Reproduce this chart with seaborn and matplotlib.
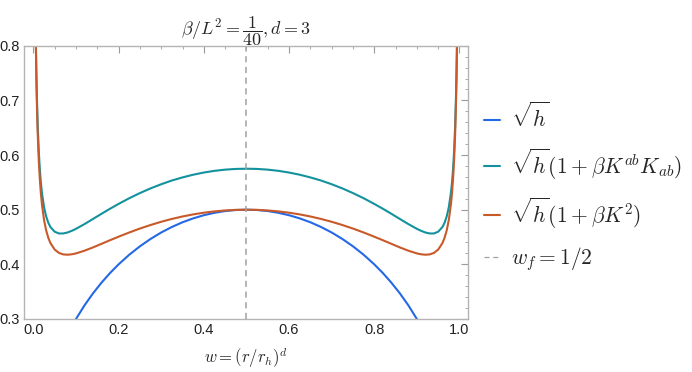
import numpy as np
import pandas as pd
import seaborn as sns
from matplotlib import pyplot as plt
from matplotlib.ticker import MultipleLocator

# values (left half + mirrored right half)
w = [0.004, 0.005, 0.006, 0.007, 0.008, 0.01, 0.0125, 0.015, 0.0175, 0.02,
     0.025, 0.03, 0.035, 0.04, 0.05, 0.06, 0.07, 0.08, 0.09, 0.1,
     0.12, 0.14, 0.16, 0.18, 0.2, 0.225, 0.25, 0.275, 0.3, 0.325,
     0.35, 0.375, 0.4, 0.425, 0.45, 0.475, 0.5,
     0.525, 0.55, 0.575, 0.6, 0.625, 0.65, 0.675, 0.7, 0.725, 0.75,
     0.775, 0.8, 0.82, 0.84, 0.86, 0.88, 0.9, 0.91, 0.92, 0.93,
     0.94, 0.95, 0.96, 0.965, 0.97, 0.975, 0.98, 0.9825, 0.985, 0.9875,
     0.99, 0.992, 0.993, 0.994, 0.995, 0.996]

sqrt_h = [0.0631, 0.0705, 0.0772, 0.0834, 0.0891, 0.0995, 0.1111, 0.1216, 0.1311, 0.1400,
          0.1561, 0.1706, 0.1838, 0.1960, 0.2179, 0.2375, 0.2552, 0.2713, 0.2862, 0.3000,
          0.3250, 0.3470, 0.3666, 0.3842, 0.4000, 0.4176, 0.4330, 0.4465, 0.4583, 0.4684,
          0.4770, 0.4841, 0.4899, 0.4943, 0.4975, 0.4994, 0.5000,
          0.4994, 0.4975, 0.4943, 0.4899, 0.4841, 0.4770, 0.4684, 0.4583, 0.4465, 0.4330,
          0.4176, 0.4000, 0.3842, 0.3666, 0.3470, 0.3250, 0.3000, 0.2862, 0.2713, 0.2552,
          0.2375, 0.2179, 0.1960, 0.1838, 0.1706, 0.1561, 0.1400, 0.1311, 0.1216, 0.1111,
          0.0995, 0.0891, 0.0834, 0.0772, 0.0705, 0.0631]

kab = [0.9496, 0.8628, 0.7998, 0.7519, 0.7139, 0.6573, 0.6091, 0.5752, 0.5503, 0.5313,
       0.5047, 0.4876, 0.4761, 0.4683, 0.4597, 0.4565, 0.4565, 0.4583, 0.4613, 0.4650,
       0.4737, 0.4831, 0.4926, 0.5018, 0.5106, 0.5210, 0.5304, 0.5390, 0.5466, 0.5534,
       0.5591, 0.5640, 0.5680, 0.5711, 0.5733, 0.5746, 0.5750,
       0.5746, 0.5733, 0.5711, 0.5680, 0.5640, 0.5591, 0.5534, 0.5466, 0.5390, 0.5304,
       0.5210, 0.5106, 0.5018, 0.4926, 0.4831, 0.4737, 0.4650, 0.4613, 0.4583, 0.4565,
       0.4565, 0.4597, 0.4683, 0.4761, 0.4876, 0.5047, 0.5313, 0.5503, 0.5752, 0.6091,
       0.6573, 0.7139, 0.7519, 0.7998, 0.8628, 0.9496]

k2 = [0.9401, 0.8522, 0.7882, 0.7394, 0.7005, 0.6424, 0.5924, 0.5570, 0.5306, 0.5103,
      0.4813, 0.4620, 0.4485, 0.4389, 0.4270, 0.4209, 0.4182, 0.4176, 0.4184, 0.4200,
      0.4250, 0.4310, 0.4376, 0.4442, 0.4506, 0.4583, 0.4655, 0.4720, 0.4779, 0.4831,
      0.4876, 0.4914, 0.4945, 0.4969, 0.4986, 0.4997, 0.5000,
      0.4997, 0.4986, 0.4969, 0.4945, 0.4914, 0.4876, 0.4831, 0.4779, 0.4720, 0.4655,
      0.4583, 0.4506, 0.4442, 0.4376, 0.4310, 0.4250, 0.4200, 0.4184, 0.4176, 0.4182,
      0.4209, 0.4270, 0.4389, 0.4485, 0.4620, 0.4813, 0.5103, 0.5306, 0.5570, 0.5924,
      0.6424, 0.7005, 0.7394, 0.7882, 0.8522, 0.9401]

w_f = 0.5
labels = [r'$\sqrt{h}$', r'$\sqrt{h}(1+\beta K^{ab}K_{ab})$', r'$\sqrt{h}(1+\beta K^2)$']
colors = ['#2468e6', '#13929e', '#c85a2a']

sns.set_style('white')
plt.rcParams['font.family'] = ['Liberation Sans', 'DejaVu Sans']
plt.rcParams['mathtext.fontset'] = 'cm'

df = pd.DataFrame({'w': w * 3, 'y': sqrt_h + kab + k2,
                   'curve': [labels[0]] * len(w) + [labels[1]] * len(w) + [labels[2]] * len(w)})

fig = plt.figure(figsize=(6.92, 3.72), dpi=100)
ax = fig.add_axes([0.0347, 0.1425, 0.6416, 0.7345])

sns.lineplot(data=df, x='w', y='y', hue='curve', palette=colors, hue_order=labels,
             linewidth=1.5, ax=ax, sort=False, estimator=None)
ax.axvline(w_f, color='#a0a0a0', linestyle=(0, (4, 3)), linewidth=1.1,
           label=r'$w_f=1/2$')

ax.set_xlim(-0.022, 1.02)
ax.set_ylim(0.3, 0.8)
ax.xaxis.set_major_locator(MultipleLocator(0.2))
ax.xaxis.set_minor_locator(MultipleLocator(0.05))
ax.yaxis.set_major_locator(MultipleLocator(0.1))
ax.yaxis.set_minor_locator(MultipleLocator(0.02))
ax.tick_params(which='both', direction='in', top=True, right=True, color='#9a9a9a',
               labelsize=10.5, labelcolor='#222222', pad=3)
ax.tick_params(which='major', length=5, width=0.8)
ax.tick_params(which='minor', length=2.5, width=0.6)
ax.tick_params(axis='x', labeltop=False)
ax.tick_params(axis='y', labelright=False)
for s in ax.spines.values():
    s.set_color('#b4b4b4')
    s.set_linewidth(1.0)

ax.set_xlabel(r'$w=(r/r_h)^d$', fontsize=12, labelpad=6)
ax.set_ylabel('')
ax.set_title(r'$\beta/L^2=\dfrac{1}{40},d=3$', fontsize=13, pad=8)

leg = ax.legend(loc='center left', bbox_to_anchor=(1.036, 0.48), frameon=False, fontsize=15.5,
                handlelength=0.74, handletextpad=0.5, labelspacing=0.65,
                borderpad=0, borderaxespad=0)
for line in leg.get_lines()[:3]:
    line.set_linewidth(1.5)
leg.get_lines()[3].set_linewidth(0.9)

fig.savefig('out.png', dpi=100)
